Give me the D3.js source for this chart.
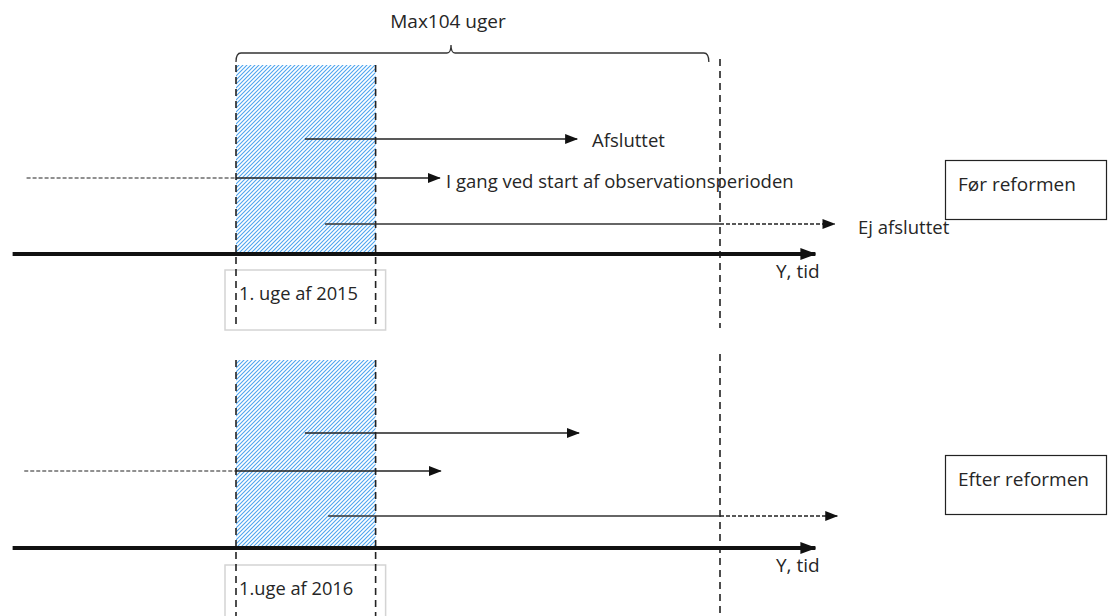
<!DOCTYPE html>
<html>
<head>
<meta charset="utf-8">
<script src="https://d3js.org/d3.v7.min.js"></script>
<style>
  body { margin: 0; background: #fff; }
  svg text { font-family: "Open Sans", Lato, sans-serif; fill: #262626; }
</style>
</head>
<body>
<svg></svg>
<script>
// weeks relative to the start of the observation period
var obsStart = 0, obsEnd = 104, firstWeekEnd = 30;
var axisRange = [-48, 124.5];
var bracketRange = [0, 101.6];
var bracketMid = 46.2;
var bracketLabel = "Max104 uger";

var panels = ["Før reformen", "Efter reformen"];
var weekLabels = ["1. uge af 2015", "1.uge af 2016"];
var axisLabel = "Y, tid";

// spells: start, end (weeks), label per panel
var spellNames = ["Afsluttet", "I gang ved start af observationsperioden", "Ej afsluttet"];
var spellStart = [[14.8, -45, 19.1], [14.8, -45.5, 19.8]];
var spellEnd = [[73.3, 43.8, 128.6], [73.7, 44, 129.2]];
var spellLabels = [["Afsluttet", "I gang ved start af observationsperioden", "Ej afsluttet"], ["", "", ""]];

// vertical lanes (pixel rows) for each panel
var lanes = ["top", "Afsluttet", "I gang ved start af observationsperioden", "Ej afsluttet", "axis", "label"];
var laneY = [[65, 139, 178, 224, 254, 270], [360, 433, 471, 516, 548, 565]];

var width = 1108, height = 616;

var svg = d3.select("svg")
    .attr("width", width)
    .attr("height", height);

var xScale = d3.scaleLinear().domain([obsStart, obsEnd]).range([236, 720]);

var defs = svg.append("defs");

// blue diagonal hatching
defs.append("pattern")
    .attr("id", "hatch")
    .attr("patternUnits", "userSpaceOnUse")
    .attr("width", 4)
    .attr("height", 4)
  .append("path")
    .attr("d", "M0,4L4,0M-1,1L1,-1M3,5L5,3")
    .attr("stroke", "#4ea4ef")
    .attr("stroke-width", 1.1);

function marker(id, w, h) {
    defs.append("marker")
        .attr("id", id)
        .attr("viewBox", "0 0 " + w + " " + h)
        .attr("refX", w - 1)
        .attr("refY", h / 2)
        .attr("markerWidth", w)
        .attr("markerHeight", h)
        .attr("markerUnits", "userSpaceOnUse")
        .attr("orient", "auto")
      .append("path")
        .attr("d", "M0,0L" + w + "," + (h / 2) + "L0," + h + "Z")
        .attr("fill", "#111");
}
marker("arrow", 13, 10);
marker("bigarrow", 16, 12);

// bracket over the observation window
var bx0 = xScale(bracketRange[0]), bx1 = xScale(bracketRange[1]), bmid = xScale(bracketMid);
svg.append("path")
    .attr("d", "M" + bx0 + ",62 Q" + bx0 + ",53 " + (bx0 + 5) + ",53 L" + (bmid - 4) + ",53 Q" + bmid + ",53 " + bmid + ",45" +
        " Q" + bmid + ",53 " + (bmid + 4) + ",53 L" + (bx1 - 5) + ",53 Q" + bx1 + ",53 " + bx1 + ",62")
    .attr("fill", "none")
    .attr("stroke", "#333")
    .attr("stroke-width", 1.3);

svg.append("text")
    .attr("x", bmid - 3)
    .attr("y", 28)
    .attr("text-anchor", "middle")
    .style("font-size", "19px")
    .text(bracketLabel);

panels.forEach(function(name, p) {
    var ly = function(k) { return laneY[p][lanes.indexOf(k)]; };

    // first week, hatched
    svg.append("rect")
        .attr("x", xScale(obsStart))
        .attr("y", ly("top"))
        .attr("width", xScale(firstWeekEnd) - xScale(obsStart))
        .attr("height", ly("axis") - ly("top"))
        .attr("fill", "url(#hatch)");

    // week label box
    svg.append("rect")
        .attr("x", xScale(obsStart) - 11)
        .attr("y", ly("label"))
        .attr("width", xScale(firstWeekEnd) - xScale(obsStart) + 21)
        .attr("height", 60)
        .attr("fill", "none")
        .attr("stroke", "#d4d4d4")
        .attr("stroke-width", 1.5);

    svg.append("text")
        .attr("x", xScale(obsStart) + 3)
        .attr("y", ly("label") + 30)
        .style("font-size", "18.3px")
        .text(weekLabels[p]);

    // dashed verticals
    [obsStart, firstWeekEnd, obsEnd].forEach(function(w, i) {
        svg.append("line")
            .attr("x1", xScale(w)).attr("x2", xScale(w))
            .attr("y1", i == 2 ? ly("top") - 6 : ly("top"))
            .attr("y2", p == 0 ? ly("label") + 58 : height)
            .attr("stroke", "#222")
            .attr("stroke-width", 1.6)
            .attr("stroke-dasharray", "7,5");
    });

    // time axis
    svg.append("line")
        .attr("x1", xScale(axisRange[0]))
        .attr("x2", xScale(axisRange[1]))
        .attr("y1", ly("axis")).attr("y2", ly("axis"))
        .attr("stroke", "#111")
        .attr("stroke-width", 4)
        .attr("marker-end", "url(#bigarrow)");

    svg.append("text")
        .attr("x", 776)
        .attr("y", ly("axis") + 24)
        .style("font-size", "19px")
        .text(axisLabel);

    // spells
    spellNames.forEach(function(s, i) {
        var x0 = xScale(spellStart[p][i]), x1 = xScale(spellEnd[p][i]), yy = ly(s);
        var g = svg.append("g");
        if (i == 1) {
            // started before the window: dashed before, solid inside
            g.append("line")
                .attr("x1", x0).attr("x2", xScale(obsStart))
                .attr("y1", yy).attr("y2", yy)
                .attr("stroke", "#222").attr("stroke-width", 1.2)
                .attr("stroke-dasharray", "4,2");
            g.append("line")
                .attr("x1", xScale(obsStart)).attr("x2", x1)
                .attr("y1", yy).attr("y2", yy)
                .attr("stroke", "#222").attr("stroke-width", 1.6)
                .attr("marker-end", "url(#arrow)");
        } else if (i == 2) {
            // still running at the end: dashed after the window
            g.append("line")
                .attr("x1", x0).attr("x2", xScale(obsEnd))
                .attr("y1", yy).attr("y2", yy)
                .attr("stroke", "#333").attr("stroke-width", 1.6);
            g.append("line")
                .attr("x1", xScale(obsEnd)).attr("x2", x1)
                .attr("y1", yy).attr("y2", yy)
                .attr("stroke", "#222").attr("stroke-width", 1.3)
                .attr("stroke-dasharray", "4,2")
                .attr("marker-end", "url(#arrow)");
        } else {
            g.append("line")
                .attr("x1", x0).attr("x2", x1)
                .attr("y1", yy).attr("y2", yy)
                .attr("stroke", "#222").attr("stroke-width", 1.6)
                .attr("marker-end", "url(#arrow)");
        }
        if (spellLabels[p][i]) {
            var tx = [592, 446, 858][i], dy = [8, 10, 10][i];
            svg.append("text")
                .attr("x", tx)
                .attr("y", yy + dy)
                .style("font-size", "18.5px")
                .text(spellLabels[p][i]);
        }
    });

    // reform box
    var boxY = [160, 455][p];
    svg.append("rect")
        .attr("x", 945.5)
        .attr("y", boxY + 0.5)
        .attr("width", 161)
        .attr("height", 59)
        .attr("fill", "#fff")
        .attr("stroke", "#222")
        .attr("stroke-width", 1.2);
    svg.append("text")
        .attr("x", 958)
        .attr("y", boxY + 31)
        .style("font-size", "19px")
        .text(name);
});
</script>
</body>
</html>
